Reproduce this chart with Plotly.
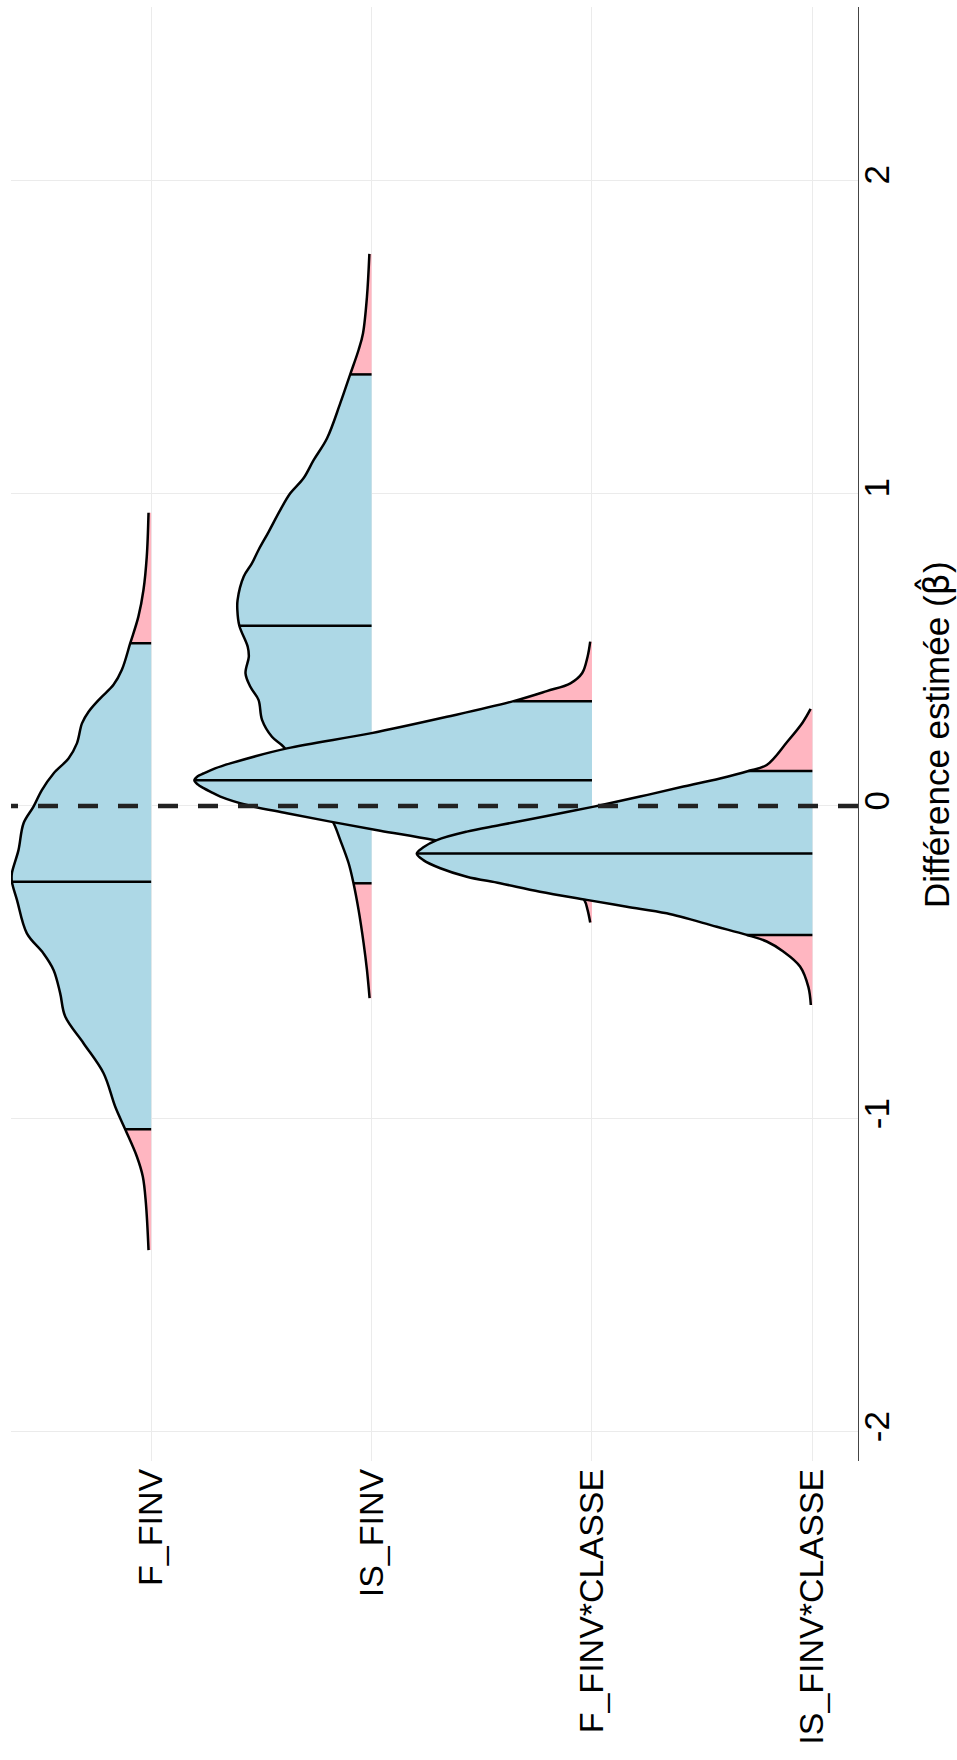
import numpy as np
import plotly.graph_objects as go

# ---------------- data ----------------
categories = ["F_FINV", "IS_FINV", "F_FINV*CLASSE", "IS_FINV*CLASSE"]
positions = [4, 3, 2, 1]

f_finv_beta = [-1.419, -1.269, -1.184, -1.12, -1.033, -0.961, -0.854, -0.758, -0.673, -0.598,
               -0.524, -0.471, -0.407, -0.3, -0.242, -0.215, -0.141, -0.055, -0.002, 0.051,
               0.104, 0.152, 0.2, 0.264, 0.301, 0.344, 0.387, 0.435, 0.52, 0.605,
               0.69, 0.797, 0.937]
f_finv_dens = [0.012, 0.024, 0.038, 0.065, 0.118, 0.163, 0.216, 0.307, 0.39, 0.413,
               0.443, 0.489, 0.564, 0.609, 0.632, 0.632, 0.602, 0.579, 0.534, 0.496,
               0.443, 0.375, 0.337, 0.314, 0.284, 0.231, 0.171, 0.133, 0.095, 0.058,
               0.035, 0.02, 0.012]

is_finv_beta = [-0.614, -0.524, -0.439, -0.332, -0.247, -0.183, -0.109, -0.055, 0.0, 0.1,
                0.189, 0.221, 0.275, 0.339, 0.381, 0.424, 0.477, 0.509, 0.576, 0.626,
                0.658, 0.733, 0.775, 0.818, 0.876, 0.946, 0.999, 1.047, 1.105, 1.175,
                1.287, 1.379, 1.457, 1.51, 1.627, 1.764]
is_finv_dens = [0.009, 0.021, 0.036, 0.059, 0.082, 0.104, 0.142, 0.172, 0.22, 0.31,
                0.399, 0.452, 0.497, 0.513, 0.55, 0.572, 0.557, 0.562, 0.600, 0.609,
                0.608, 0.58, 0.543, 0.513, 0.467, 0.414, 0.369, 0.309, 0.263, 0.202,
                0.142, 0.097, 0.059, 0.039, 0.021, 0.01]

f_class_beta = [-0.372, -0.332, -0.3, -0.25, -0.2, -0.18, -0.15, -0.109, -0.079, -0.05,
                -0.023, 0.003, 0.03, 0.045, 0.057, 0.069, 0.082, 0.095, 0.104, 0.12,
                0.136, 0.184, 0.232, 0.285, 0.335, 0.367, 0.392, 0.424, 0.477, 0.525]
f_class_dens = [0.008, 0.02, 0.035, 0.1, 0.23, 0.31, 0.46, 0.718, 0.961, 1.187,
                1.384, 1.565, 1.686, 1.73, 1.762, 1.789, 1.804, 1.789, 1.762, 1.71,
                1.641, 1.384, 1.006, 0.658, 0.356, 0.205, 0.098, 0.045, 0.02, 0.008]

is_class_beta = [-0.636, -0.579, -0.513, -0.465, -0.433, -0.412, -0.386, -0.343, -0.322, -0.3,
                 -0.274, -0.247, -0.226, -0.199, -0.173, -0.152, -0.132, -0.109, -0.082, -0.061,
                 -0.032, -0.002, 0.03, 0.062, 0.088, 0.112, 0.131, 0.206, 0.267, 0.31]
is_class_dens = [0.007, 0.018, 0.056, 0.132, 0.207, 0.298, 0.434, 0.661, 0.842, 1.024,
                 1.236, 1.417, 1.568, 1.688, 1.765, 1.795, 1.765, 1.704, 1.568, 1.417,
                 1.205, 0.991, 0.782, 0.585, 0.419, 0.29, 0.207, 0.113, 0.044, 0.008]

q_low = [-1.033, -0.247, -0.18, -0.412]
q_med = [-0.242, 0.576, 0.082, -0.152]
q_high = [0.52, 1.379, 0.335, 0.112]

beta_ticks = [-2, -1, 0, 1, 2]
beta_tick_labels = ["-2", "-1", "0", "1", "2"]

# ---------------- styling ----------------
BLUE = "#ADD8E6"
PINK = "#FFB6C1"
FONT = "Liberation Sans, Arial, sans-serif"
LW = 2.5

fig = go.Figure()

ridges = [(f_finv_beta, f_finv_dens), (is_finv_beta, is_finv_dens),
          (f_class_beta, f_class_dens), (is_class_beta, is_class_dens)]

for i, (bl, dl) in enumerate(ridges):
    base = positions[i]
    b = np.array(bl, dtype=float)
    d = np.array(dl, dtype=float)
    lo, med, hi = q_low[i], q_med[i], q_high[i]
    eps = 1e-9
    segs = [(b <= lo + eps, PINK),
            ((b >= lo - eps) & (b <= hi + eps), BLUE),
            (b >= hi - eps, PINK)]
    for mask, col in segs:
        bb = b[mask]
        dd = d[mask]
        fig.add_trace(go.Scatter(x=[base, base], y=[bb[0], bb[-1]], mode="lines",
                                 line=dict(width=0), hoverinfo="skip", showlegend=False))
        fig.add_trace(go.Scatter(x=base + dd, y=bb, mode="lines",
                                 line=dict(width=0, shape="spline"),
                                 fill="tonextx", fillcolor=col,
                                 hoverinfo="skip", showlegend=False))
    # outline
    fig.add_trace(go.Scatter(x=base + d, y=b, mode="lines",
                             line=dict(color="black", width=LW, shape="spline"),
                             hoverinfo="skip", showlegend=False))
    # quantile lines
    for q in (lo, med, hi):
        idx = int(np.argmin(np.abs(b - q)))
        fig.add_trace(go.Scatter(x=[base, base + d[idx]], y=[q, q], mode="lines",
                                 line=dict(color="black", width=LW),
                                 hoverinfo="skip", showlegend=False))

# dashed zero reference line (drawn from the right edge)
fig.add_shape(type="line", xref="paper", yref="y", x0=1, x1=0, y0=0, y1=0,
              line=dict(color="#222222", width=4.7, dash="20px,20px"), layer="above")

fig.add_annotation(text="Diff\u00e9rence estim\u00e9e (<span style=\"font-family:'DejaVu Sans'\">\u03b2\u0302</span>)",
                   xref="paper", yref="paper", x=(935 - 11) / 847, y=0.5,
                   xanchor="center", yanchor="middle", textangle=-90, showarrow=False,
                   font=dict(family=FONT, size=35, color="black"))

fig.update_layout(
    width=957, height=1760,
    margin=dict(l=11, r=99, t=7, b=299),
    plot_bgcolor="white", paper_bgcolor="white",
    showlegend=False,
    xaxis=dict(range=[4.636, 0.793], tickvals=positions, ticktext=categories,
               tickangle=-90, showgrid=True, gridcolor="#ebebeb", gridwidth=1,
               zeroline=False, showline=False, ticks="", automargin=False,
               tickfont=dict(family=FONT, size=34, color="black")),
    yaxis=dict(range=[-2.093, 2.553], tickvals=beta_ticks, ticktext=beta_tick_labels,
               side="right", tickangle=-90, showgrid=True, gridcolor="#ebebeb", gridwidth=1,
               zeroline=False, showline=True, linecolor="#444444", linewidth=1,
               ticks="", automargin=False, ticklabelstandoff=-12,
               tickfont=dict(family=FONT, size=35, color="black")),
)

fig.write_html("out.html", config={"displayModeBar": False},
               post_script="document.body.style.margin='0';document.body.style.overflow='hidden';")
